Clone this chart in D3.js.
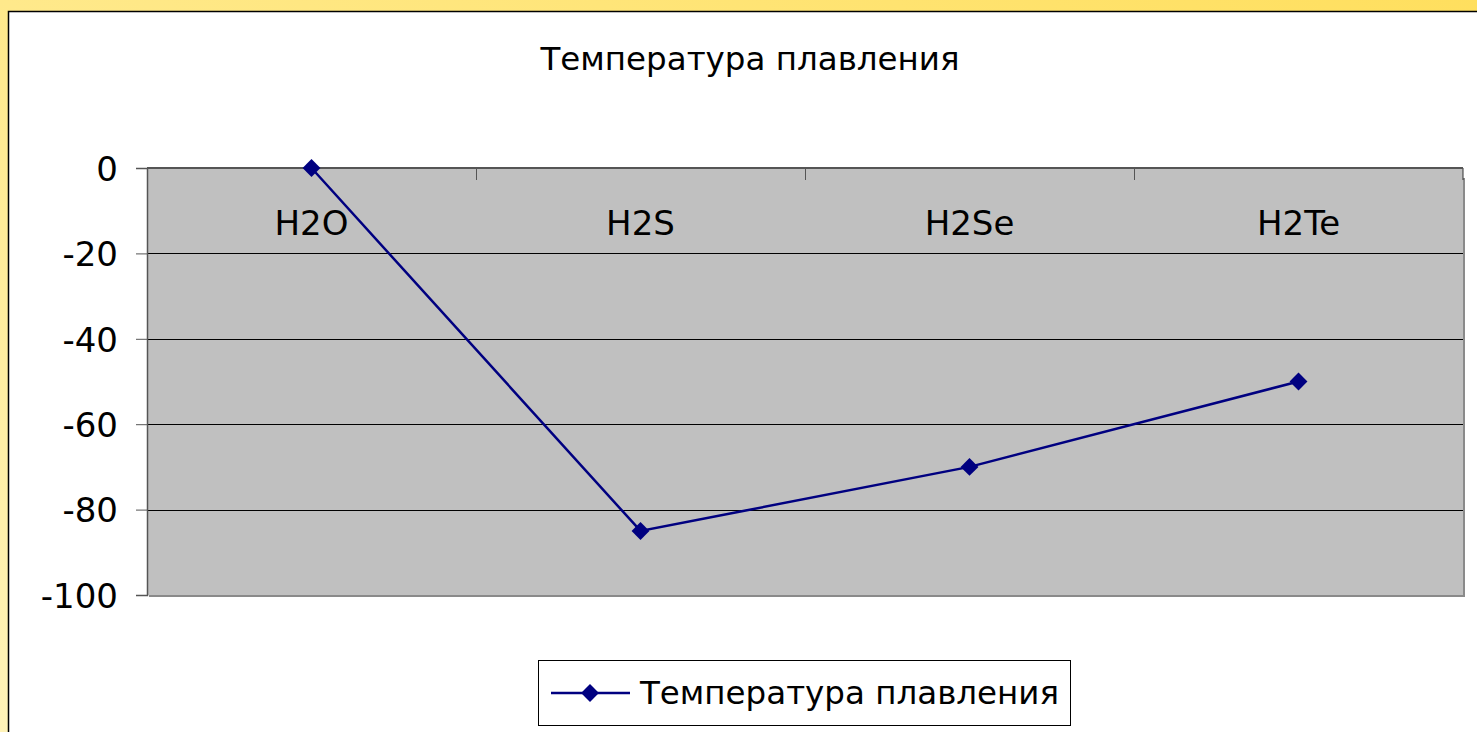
<!DOCTYPE html>
<html>
<head>
<meta charset="utf-8">
<script src="https://cdn.jsdelivr.net/npm/d3@7"></script>
<style>
  body { margin: 0; overflow: hidden; }
  text { font-family: "DejaVu Sans", Verdana, sans-serif; }
</style>
</head>
<body>
<script>
var w = 1477,
    h = 732;

var categories = ['H2O', 'H2S', 'H2Se', 'H2Te'];
var meltValues = [0, -85, -70, -50];
var yTicks = [0, -20, -40, -60, -80, -100];
var seriesName = 'Температура плавления';
var title = 'Температура плавления';

var plot = {left: 147, top: 168, right: 1463, bottom: 595};

var svg = d3.select('body')
  .append('svg')
  .attr('width', w)
  .attr('height', h);

var defs = svg.append('defs');
var grad = defs.append('linearGradient')
  .attr('id', 'bg')
  .attr('x1', '0%').attr('y1', '100%')
  .attr('x2', '100%').attr('y2', '0%');
grad.append('stop').attr('offset', '0%').attr('stop-color', '#fff3b8');
grad.append('stop').attr('offset', '100%').attr('stop-color', '#ffdf5e');

svg.append('rect')
  .attr('width', w).attr('height', h)
  .attr('fill', 'url(#bg)');

// white chart area
svg.append('rect')
  .attr('x', 8.5).attr('y', 11.5)
  .attr('width', w).attr('height', h)
  .attr('fill', '#fff')
  .attr('stroke', '#000')
  .attr('stroke-width', 1.5);

var x = d3.scaleBand()
  .domain(categories)
  .range([plot.left, plot.right]);

var y = d3.scaleLinear()
  .domain([-100, 0])
  .range([plot.bottom, plot.top]);

// plot area
svg.append('rect')
  .attr('x', plot.left).attr('y', plot.top)
  .attr('width', plot.right - plot.left)
  .attr('height', plot.bottom - plot.top)
  .attr('fill', '#c0c0c0');

// shadow on right and bottom
svg.append('path')
  .attr('d', 'M' + (plot.right + 1) + ',' + (plot.top + 10) + 'V' + (plot.bottom + 1) + 'H' + (plot.left + 2))
  .attr('fill', 'none')
  .attr('stroke', '#8a8a8a')
  .attr('stroke-width', 2);
svg.append('line')
  .attr('x1', plot.right).attr('x2', plot.right)
  .attr('y1', plot.top).attr('y2', plot.top + 12)
  .attr('stroke', '#333');

// gridlines
svg.append('g')
  .selectAll('line')
  .data(yTicks.filter(function(d) { return d !== 0 && d !== -100; }))
  .enter().append('line')
  .attr('x1', plot.left).attr('x2', plot.right)
  .attr('y1', function(d) { return Math.round(y(d)) + 0.5; })
  .attr('y2', function(d) { return Math.round(y(d)) + 0.5; })
  .attr('stroke', '#000')
  .attr('stroke-width', 1);

// y axis, plain hyphen for minus like the original
var yAxis = svg.append('g')
  .attr('transform', 'translate(' + plot.left + ',0)')
  .call(d3.axisLeft(y).tickValues(yTicks).tickSize(11).tickPadding(18)
    .tickFormat(function(d) { return String(d); }));
yAxis.select('.domain').attr('stroke', '#555').attr('stroke-width', 1.5);
yAxis.selectAll('.tick line').attr('stroke', '#555');
yAxis.selectAll('.tick text')
  .attr('font-size', 34)
  .attr('fill', '#000')
  .attr('dy', '0.36em')
  .attr('font-family', '"DejaVu Sans", Verdana, sans-serif');

// category axis at top (crosses at 0)
var xAxis = svg.append('g')
  .attr('transform', 'translate(0,' + y(0) + ')');
xAxis.append('line')
  .attr('x1', plot.left).attr('x2', plot.right)
  .attr('stroke', '#555').attr('stroke-width', 2);
xAxis.selectAll('line.tk')
  .data(categories.slice(1))
  .enter().append('line')
  .attr('class', 'tk')
  .attr('x1', function(d) { return x(d) + 0.5; })
  .attr('x2', function(d) { return x(d) + 0.5; })
  .attr('y1', 0).attr('y2', 12)
  .attr('stroke', '#555');
xAxis.selectAll('text')
  .data(categories)
  .enter().append('text')
  .attr('x', function(d) { return x(d) + x.bandwidth() / 2; })
  .attr('y', 67)
  .attr('text-anchor', 'middle')
  .attr('font-size', 34)
  .text(function(d) { return d; });

// series line
var pts = categories.map(function(c, i) { return {c: c, v: meltValues[i]}; });
var line = d3.line()
  .x(function(d) { return x(d.c) + x.bandwidth() / 2; })
  .y(function(d) { return y(d.v); });

svg.append('path')
  .attr('d', line(pts))
  .attr('fill', 'none')
  .attr('stroke', '#000080')
  .attr('stroke-width', 2.5);

var marker = d3.symbol().type(d3.symbolSquare).size(160);
svg.selectAll('path.pt')
  .data(pts)
  .enter().append('path')
  .attr('class', 'pt')
  .attr('transform', function(d) {
    return 'translate(' + (x(d.c) + x.bandwidth() / 2) + ',' + y(d.v) + ') rotate(45)';
  })
  .attr('d', marker)
  .attr('fill', '#000080');

// title
svg.append('text')
  .attr('x', 750).attr('y', 70)
  .attr('text-anchor', 'middle')
  .attr('font-size', 32.5)
  .text(title);

// legend
var lg = svg.append('g').attr('transform', 'translate(538,660)');
lg.append('rect')
  .attr('x', 0.5).attr('y', 0.5)
  .attr('width', 532).attr('height', 65)
  .attr('fill', '#fff')
  .attr('stroke', '#000');
lg.append('line')
  .attr('x1', 13).attr('x2', 92)
  .attr('y1', 33).attr('y2', 33)
  .attr('stroke', '#000080').attr('stroke-width', 2.5);
lg.append('path')
  .attr('transform', 'translate(52,33) rotate(45)')
  .attr('d', marker)
  .attr('fill', '#000080');
lg.append('text')
  .attr('x', 102).attr('y', 44)
  .attr('font-size', 32.5)
  .text(seriesName);
</script>
</body>
</html>
